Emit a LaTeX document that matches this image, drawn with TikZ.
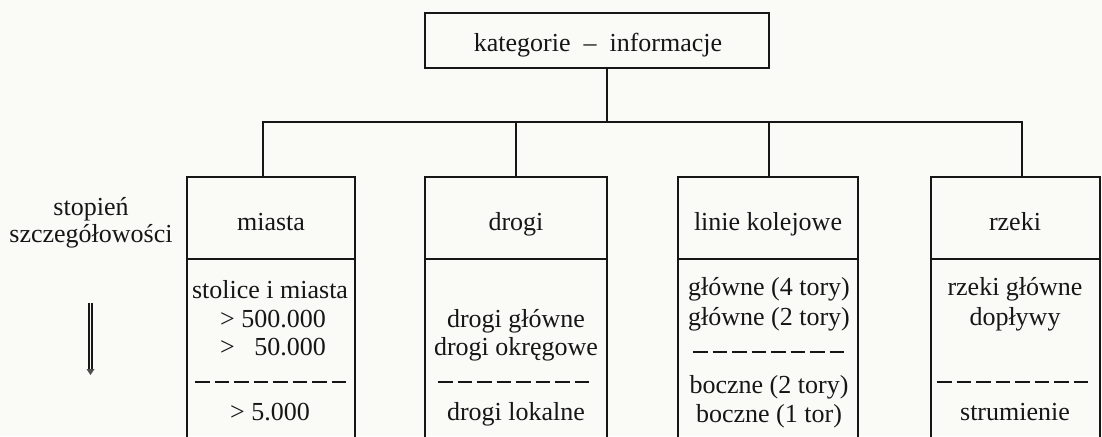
\documentclass[tikz,border=0pt]{standalone}
\usepackage{fontspec}
\setmainfont{Liberation Serif}
\definecolor{paper}{RGB}{250,250,247}
\definecolor{ink}{RGB}{22,22,22}
\begin{document}
\begin{tikzpicture}[x=1pt,y=-1pt,
  frame/.style={draw=ink, line width=1.8pt, rectangle, inner sep=0pt, outer sep=0pt},
  wire/.style={draw=ink, line width=1.8pt, line join=miter},
  label/.style={anchor=base, inner sep=0pt, text=ink, font=\fontsize{26}{28}\selectfont},
  sep/.style={draw=ink, line width=1.3pt, dash pattern=on 14.5pt off 5pt}]

% page
\fill[paper] (0,0) rectangle (1102,436);
\useasboundingbox (0,0) rectangle (1102,436);
\clip (0,0) rectangle (1102,436);

% root box
\node[frame, minimum width=344pt, minimum height=55pt] (top) at (597,40.5) {};
\node[label] (toptxt) at (598,52) {kategorie\hspace{0.5em}–\hspace{0.5em}informacje};

% category headers
\node[frame, minimum width=168pt, minimum height=82pt] (hdr1) at (271,218) {};
\node[frame, minimum width=182pt, minimum height=82pt] (hdr2) at (516,218) {};
\node[frame, minimum width=180pt, minimum height=82pt] (hdr3) at (768,218) {};
\node[frame, minimum width=169pt, minimum height=82pt] (hdr4) at (1015.5,218) {};

% category bodies (open towards the bottom edge)
\node[frame, minimum width=168pt, minimum height=200pt, anchor=north] (body1) at (hdr1.south) {};
\node[frame, minimum width=182pt, minimum height=200pt, anchor=north] (body2) at (hdr2.south) {};
\node[frame, minimum width=180pt, minimum height=200pt, anchor=north] (body3) at (hdr3.south) {};
\node[frame, minimum width=169pt, minimum height=200pt, anchor=north] (body4) at (hdr4.south) {};

% tree connectors
\coordinate (hub) at (607,122);
\coordinate (j1) at (263,122);
\coordinate (j2) at (516,122);
\coordinate (j3) at (769,122);
\coordinate (j4) at (1022,122);
\draw[wire] (top.south -| hub) -- (hub);
\draw[wire] (hdr1.north -| j1) -- (j1) -- (j4) -- (hdr4.north -| j4);
\draw[wire] (j2) -- (hdr2.north -| j2);
\draw[wire] (j3) -- (hdr3.north -| j3);

% side caption and double arrow
\node[label] (cap1) at (91,215) {stopień};
\node[label] (cap2) at (91,242) {szczegółowości};
\coordinate (ar1) at (90.5,303);
\coordinate (ar2) at (90.5,370);
\draw[draw=ink, line width=1.7pt, double=paper, double distance=1.8pt] (ar1) -- (ar2);
\fill[ink!75] (86.5,369) -- (94.5,369) -- (90.5,375) -- cycle;

% miasta
\node[label] (h1) at (271,230) {miasta};
\node[label] (m1) at (270,298) {stolice i miasta};
\node[label] (m2) at (273,327) {> 500.000};
\node[label] (m3) at (273,355) {>\ \phantom{0}50.000};
\draw[sep] (195,382) -- (346,382);
\node[label] (m4) at (270,420) {> 5.000};

% drogi
\node[label] (h2) at (516,230) {drogi};
\node[label] (d1) at (516,327) {drogi główne};
\node[label] (d2) at (516,355) {drogi okręgowe};
\draw[sep] (438,382) -- (589,382);
\node[label] (d3) at (516,420) {drogi lokalne};

% linie kolejowe
\node[label] (h3) at (768,230) {linie kolejowe};
\node[label] (k1) at (769,295) {główne (4 tory)};
\node[label] (k2) at (769,325) {główne (2 tory)};
\draw[sep] (693,352) -- (844,352);
\node[label] (k3) at (769,393) {boczne (2 tory)};
\node[label] (k4) at (769,422) {boczne (1 tor)};

% rzeki
\node[label] (h4) at (1015,230) {rzeki};
\node[label] (r1) at (1015,295) {rzeki główne};
\node[label] (r2) at (1015,325) {dopływy};
\draw[sep] (937,382) -- (1088,382);
\node[label] (r3) at (1015,420) {strumienie};
\end{tikzpicture}
\end{document}
